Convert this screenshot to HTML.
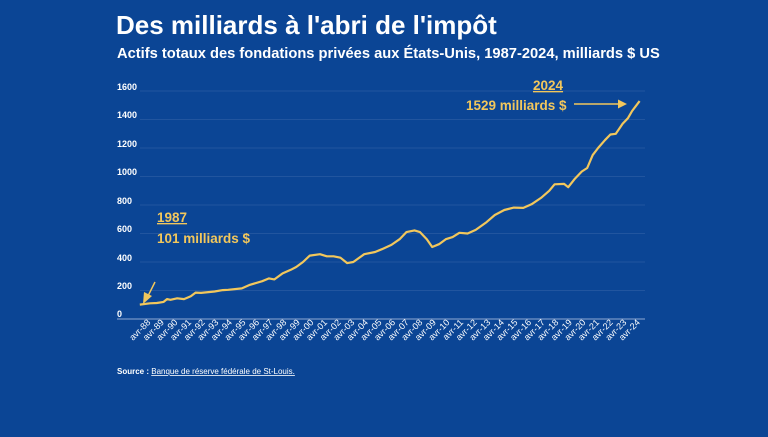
<!DOCTYPE html>
<html><head><meta charset="utf-8"><style>
html,body{margin:0;padding:0;background:#0b4595;}
body{width:768px;height:432px;overflow:hidden;font-family:"Liberation Sans",sans-serif;}
</style></head><body>
<svg width="768" height="432" viewBox="0 0 768 432" xmlns="http://www.w3.org/2000/svg" font-family="Liberation Sans, sans-serif">
<rect width="768" height="432" fill="#0b4595"/>
<text x="116" y="34" fill="#fff" font-size="26" font-weight="bold">Des milliards à l'abri de l'impôt</text>
<text x="117" y="58" fill="#fff" font-size="14.7" font-weight="bold">Actifs totaux des fondations privées aux États-Unis, 1987-2024, milliards $ US</text>
<g stroke="#2a5ba3" stroke-width="0.7">
<line x1="140" x2="645" y1="91" y2="91"/><line x1="140" x2="645" y1="119.5" y2="119.5"/>
<line x1="140" x2="645" y1="148" y2="148"/><line x1="140" x2="645" y1="176.5" y2="176.5"/>
<line x1="140" x2="645" y1="205" y2="205"/><line x1="140" x2="645" y1="233.5" y2="233.5"/>
<line x1="140" x2="645" y1="262" y2="262"/><line x1="140" x2="645" y1="290.5" y2="290.5"/>
</g>
<line x1="117" x2="645" y1="319" y2="319" stroke="#8fa9d4" stroke-width="1"/>
<g fill="#fff" font-size="9" font-weight="bold">
<text x="117" y="90">1600</text><text x="117" y="118">1400</text><text x="117" y="147">1200</text>
<text x="117" y="175">1000</text><text x="117" y="204">800</text><text x="117" y="232">600</text>
<text x="117" y="261">400</text><text x="117" y="289">200</text><text x="117" y="317">0</text>
</g>
<g id="xl" fill="#fff" font-size="9"></g>
<polyline id="ln" fill="none" stroke="#f2c75c" stroke-width="2.2" stroke-linejoin="round"/>
<g fill="#f2c75c" font-weight="bold">
<text x="157" y="222" font-size="13.5" text-decoration="underline">1987</text>
<text x="157" y="243" font-size="13.5">101 milliards $</text>
<text x="533" y="90" font-size="13.5" text-decoration="underline">2024</text>
<text x="466" y="110" font-size="13.5">1529 milliards $</text>
</g>
<line x1="155" y1="282" x2="148" y2="296" stroke="#f2c75c" stroke-width="1.5"/>
<polygon points="143,304 144,292 152,296" fill="#f2c75c"/>
<line x1="574" y1="104" x2="620" y2="104" stroke="#f2c75c" stroke-width="1.5"/>
<polygon points="627,104 618,99.5 618,108.5" fill="#f2c75c"/>
<text x="117" y="374" fill="#fff" font-size="8"><tspan font-weight="bold">Source : </tspan><tspan text-decoration="underline">Banque de réserve fédérale de St-Louis.</tspan></text>
</svg>
<script>
var d=[[1987.5,101],[1988.25,110],[1988.75,112],[1989.25,120],[1989.5,140],[1989.75,135],[1990.25,145],[1990.75,140],[1991.25,160],[1991.6,185],[1992,183],[1993,193],[1993.6,203],[1994,205],[1995,215],[1995.6,240],[1996.5,265],[1997,285],[1997.4,278],[1998,320],[1998.6,345],[1999,365],[1999.5,400],[2000,445],[2000.75,455],[2001.25,440],[2001.75,440],[2002.25,430],[2002.75,392],[2003.2,400],[2004,455],[2004.8,470],[2005.3,490],[2006,520],[2006.6,560],[2007.1,610],[2007.7,622],[2008.1,610],[2008.6,560],[2009,505],[2009.5,525],[2010,560],[2010.5,575],[2011,605],[2011.6,600],[2012.2,625],[2013,680],[2013.6,730],[2014.3,765],[2015,782],[2015.7,780],[2016.3,805],[2017,850],[2017.6,900],[2018,945],[2018.7,948],[2019,925],[2019.5,985],[2020,1035],[2020.4,1060],[2020.8,1150],[2021.2,1200],[2021.7,1255],[2022.1,1295],[2022.5,1300],[2023,1370],[2023.4,1410],[2023.7,1460],[2024.25,1529]];
document.getElementById('ln').setAttribute('points',d.map(function(p){return (150+(p[0]-1988.25)*13.6).toFixed(1)+','+(319-p[1]*0.1425).toFixed(1)}).join(' '));
var g=document.getElementById('xl'),s='';
for(var i=0;i<37;i++){var y=(88+i)%100;var lab='avr-'+(y<10?'0':'')+y;var x=151+i*13.6;
s+='<text transform="translate('+x.toFixed(1)+',323) rotate(-45)" text-anchor="end">'+lab+'</text>';}
g.innerHTML=s;
</script>
</body></html>
